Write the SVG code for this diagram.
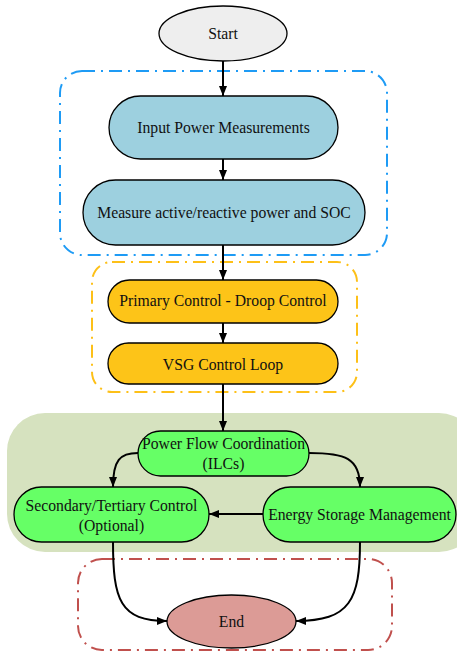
<svg xmlns="http://www.w3.org/2000/svg" width="457" height="656" viewBox="0 0 457 656">
<defs>
<marker id="ah" markerWidth="10" markerHeight="8" refX="10" refY="4" orient="auto" markerUnits="userSpaceOnUse">
<path d="M0,0 L10,4 L0,8 Z" fill="#000"/>
</marker>
<style>
text{font-family:"Liberation Serif","Times New Roman",serif;font-size:15.7px;fill:#111;text-anchor:middle}
.n{stroke:#000;stroke-width:1.3}
.c{fill:none;stroke-width:2;stroke-dasharray:13,6,2,6}
.e{fill:none;stroke:#000;stroke-width:2;marker-end:url(#ah)}
</style>
</defs>
<g id="clusters">
<rect class="c" x="60" y="71" width="327" height="184" rx="22" stroke="#1e9bf5"/>
<rect class="c" x="92" y="262" width="265" height="130" rx="20" stroke="#fdc018"/>
<rect x="7" y="413" width="470" height="139" rx="38" fill="#d6e2bf"/>
<rect class="c" x="78" y="559" width="314" height="91" rx="24" stroke="#c0504d"/>
</g>
<g id="connectors">
<path class="e" d="M223,61 L223,96"/>
<path class="e" d="M223,159 L223,180"/>
<path class="e" d="M223,245 L223,280"/>
<path class="e" d="M223,323 L223,343"/>
<path class="e" d="M223,384 L223,431"/>
<path class="e" d="M138,453 C120,453 113,460 113,487"/>
<path class="e" d="M309,453 C345,453 360,458 360,487"/>
<path class="e" d="M263,514 L209,514"/>
<path class="e" d="M113,542 C113,600 120,621 167,621"/>
<path class="e" d="M360,542 C360,600 350,621 296,621"/>
</g>
<g id="start"><ellipse class="n" cx="223" cy="33.5" rx="64" ry="27.5" fill="#eeeeee"/><text x="223" y="38.5">Start</text></g>
<g id="input"><rect class="n" x="109" y="96" width="229" height="63" rx="31.5" fill="#9dd0df"/><text x="223.5" y="132.5">Input Power Measurements</text></g>
<g id="measure"><rect class="n" x="83" y="180" width="282" height="65" rx="32.5" fill="#9dd0df"/><text x="224" y="217.5">Measure active/reactive power and SOC</text></g>
<g id="primary"><rect class="n" x="108" y="280" width="230" height="43" rx="21.5" fill="#fdc418"/><text x="223" y="306">Primary Control - Droop Control</text></g>
<g id="vsg"><rect class="n" x="108" y="343" width="230" height="41" rx="20.5" fill="#fdc418"/><text x="223" y="369.5">VSG Control Loop</text></g>
<g id="pfc"><rect class="n" x="138" y="431" width="171" height="45" rx="22.5" fill="#66ff66"/><text x="223.5" y="448.5">Power Flow Coordination</text><text x="223.5" y="468.5">(ILCs)</text></g>
<g id="secondary"><rect class="n" x="14" y="487" width="195" height="55" rx="27.5" fill="#66ff66"/><text x="111.5" y="510.5">Secondary/Tertiary Control</text><text x="111.5" y="530.5">(Optional)</text></g>
<g id="energy"><rect class="n" x="263" y="487" width="193" height="55" rx="27.5" fill="#66ff66"/><text x="359.5" y="519.5">Energy Storage Management</text></g>
<g id="end"><ellipse class="n" cx="231.5" cy="621.5" rx="64.5" ry="26.5" fill="#dc9b96"/><text x="231.5" y="627">End</text></g>
</svg>
